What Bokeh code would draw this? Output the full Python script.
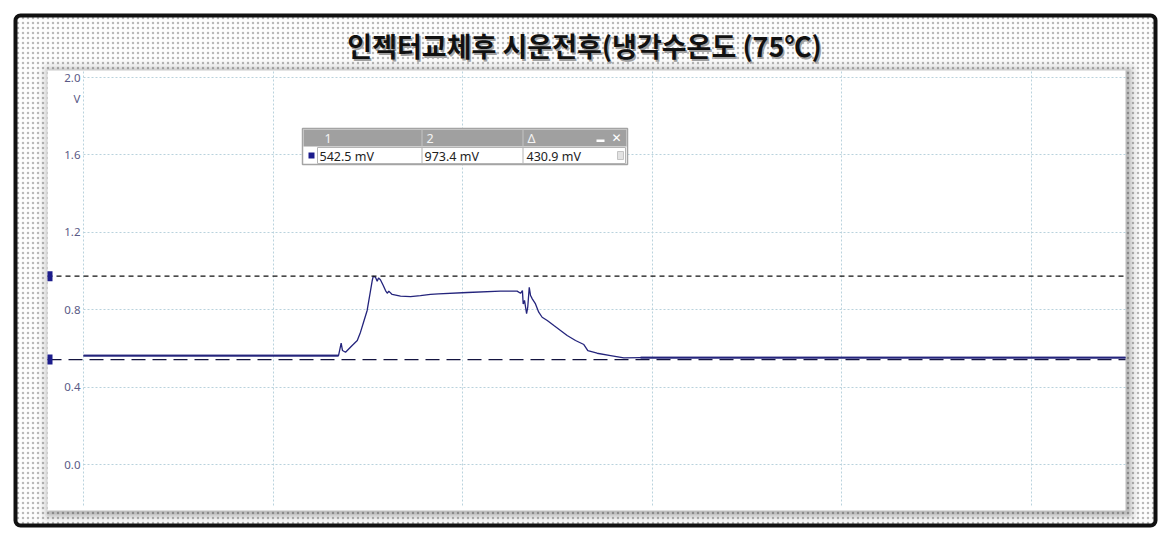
from bokeh.plotting import figure
from bokeh.models import BoxAnnotation, Label, Arrow, Range1d, FixedTicker, PrintfTickFormatter
from bokeh.embed import file_html
from bokeh.resources import INLINE

# ---------------- data ----------------
title_text = "인젝터교체후 시운전후(냉각수온도 (75℃)"
y_unit = "V"
y_ticks = [0.0, 0.4, 0.8, 1.2, 1.6, 2.0]
x_ticks = [0, 1, 2, 3, 4, 5]            # time divisions (no labels shown)

time_div = [0.000, 1.345, 1.359, 1.366, 1.382, 1.417, 1.444, 1.461, 1.477, 1.496,
            1.508, 1.523, 1.528, 1.540, 1.549, 1.556, 1.566, 1.581, 1.593, 1.602,
            1.610, 1.628, 1.672, 1.725, 1.777, 1.830, 1.872, 2.025, 2.199, 2.287,
            2.305, 2.315, 2.319, 2.326, 2.337, 2.343, 2.351, 2.358, 2.367, 2.384,
            2.401, 2.419, 2.446, 2.481, 2.516, 2.551, 2.595, 2.639, 2.660, 2.709,
            2.780, 2.850, 2.938, 5.496]
volts = [0.563, 0.563, 0.627, 0.589, 0.580, 0.615, 0.641, 0.684, 0.735, 0.796,
         0.865, 0.951, 0.972, 0.968, 0.947, 0.964, 0.955, 0.925, 0.899, 0.885,
         0.896, 0.879, 0.870, 0.868, 0.873, 0.879, 0.882, 0.889, 0.896, 0.896,
         0.885, 0.899, 0.830, 0.848, 0.779, 0.813, 0.916, 0.873, 0.856, 0.830,
         0.787, 0.761, 0.744, 0.718, 0.693, 0.667, 0.641, 0.620, 0.589, 0.575,
         0.563, 0.551, 0.552, 0.552]

# noisy baseline envelope (idle regions)
noise_left_t = [0.000, 1.345]
noise_left_lo = [0.557, 0.557]
noise_left_hi = [0.569, 0.569]
noise_right_t = [2.938, 5.496]
noise_right_lo = [0.547, 0.547]
noise_right_hi = [0.558, 0.558]

cursor_names = ["1", "2", "\u0394"]
cursor_mv = [542.5, 973.4, 430.9]

# ---------------- layout ----------------
W, H = 1170, 541
PX_X, PX_Y = 189.6, 193.5          # pixels per division / per volt
OX, OY = 83, 464                   # page position of (0 div, 0 V)
X0, X1 = -OX / PX_X, (W - OX) / PX_X
Y0, Y1 = -(H - OY) / PX_Y, OY / PX_Y
PL, PT, PR, PB = 47, 70, 1125, 510  # white chart panel
XR = (PR - OX) / PX_X               # right edge of plotting area (div)

p = figure(width=W, height=H, output_backend="svg", toolbar_location=None,
           x_range=Range1d(X0, X1), y_range=Range1d(Y0, Y1),
           min_border=0, min_border_left=0, min_border_right=0,
           min_border_top=0, min_border_bottom=0)
p.outline_line_color = None
p.border_fill_color = "white"
p.background_fill_color = "white"
p.title.visible = False

p.xaxis.visible = False
p.xaxis.ticker = FixedTicker(ticks=x_ticks)
p.xgrid.ticker = FixedTicker(ticks=x_ticks)
p.yaxis.ticker = FixedTicker(ticks=y_ticks)
p.yaxis.formatter = PrintfTickFormatter(format="%.1f")
p.yaxis.fixed_location = 0
p.yaxis.axis_line_color = None
p.yaxis.major_tick_line_color = None
p.yaxis.minor_tick_line_color = None
p.yaxis.major_tick_out = 0
p.yaxis.major_tick_in = 0
p.yaxis.major_label_standoff = 3
p.yaxis.major_label_text_font = "Noto Sans"
p.yaxis.major_label_text_font_size = "11.5px"
p.yaxis.major_label_text_color = "#5a5a86"
for g in (p.xgrid, p.ygrid):
    g.grid_line_color = "#b9d2dd"
    g.grid_line_dash = "2 2"
    g.grid_line_width = 1
p.xgrid.cross_bounds = (-(505 - OY) / PX_Y, (OY - PT) / PX_Y)
p.ygrid.cross_bounds = (0, XR)


def sy(y):
    return H - y


def box(x0, y0, x1, y1, level="image", **kw):
    opts = dict(fill_alpha=1.0, line_color=None, line_alpha=1.0)
    opts.update(kw)
    b = BoxAnnotation(left=x0, right=x1, top=sy(y0), bottom=sy(y1),
                      left_units="screen", right_units="screen",
                      top_units="screen", bottom_units="screen", level=level, **opts)
    p.add_layout(b)
    return b


def label(x, y, text, level="annotation", **kw):
    opts = dict(text_font="Noto Sans", text_font_size="12.5px", text_color="#222222",
                text_baseline="middle", text_align="left")
    opts.update(kw)
    lb = Label(x=x, y=sy(y), x_units="screen", y_units="screen", text=text,
               level=level, **opts)
    p.add_layout(lb)
    return lb


# outer dotted card with black border
box(15, 15, 1155, 525, fill_color="#fdfdfd", hatch_pattern="dot", hatch_color="#8a8a8a",
    hatch_scale=5, hatch_weight=0.6, hatch_alpha=0.6, line_color="#111111", line_width=4,
    border_radius=5)
# soft panel shadow
for d, a in [(11, 0.025), (8, 0.035), (5, 0.05), (3, 0.07), (1, 0.09)]:
    box(PL - d + 2, PT - d + 1, PR + d + 3, PB + d + 3, fill_color="#000000", fill_alpha=a,
        border_radius=d)
# white chart panel
box(PL, PT, PR, PB, fill_color="white")

# title (with light shadow)
label(585.5, 46.5, title_text, text_font="Noto Sans CJK KR", text_font_style="bold",
      text_font_size="27px", text_color="#a0a0a0", text_align="center")
label(584, 45, title_text, text_font="Noto Sans CJK KR", text_font_style="bold",
      text_font_size="27px", text_color="#111111", text_align="center")

# unit under top tick
p.add_layout(Label(x=80, y=y_ticks[-1] - 21 / PX_Y, x_units="screen", y_units="data",
                   text=y_unit, text_font="Noto Sans", text_font_size="11.5px",
                   text_color="#5a5a86", text_align="right", text_baseline="middle"))

# trace
trace_color = "#24247c"
p.varea(x=noise_left_t, y1=noise_left_lo, y2=noise_left_hi, color=trace_color, alpha=0.85)
p.varea(x=noise_right_t, y1=noise_right_lo, y2=noise_right_hi, color=trace_color, alpha=0.85)
p.line(time_div, volts, line_color=trace_color, line_width=1.3)

# cursors
c1, c2 = cursor_mv[0] / 1000.0, cursor_mv[1] / 1000.0
x_left = (PL - OX) / PX_X
p.add_layout(Arrow(end=None, x_start=x_left, y_start=c2, x_end=XR, y_end=c2,
                   line_color="#111111", line_width=1.2, line_dash="5 4", level="overlay"))
p.add_layout(Arrow(end=None, x_start=x_left, y_start=c1, x_end=XR, y_end=c1,
                   line_color="#141440", line_width=1.2, line_dash="14 7", level="glyph"))
for c in (c1, c2):
    p.add_layout(BoxAnnotation(left=PL, right=PL + 5, left_units="screen",
                               right_units="screen", top=c + 5 / PX_Y, bottom=c - 5 / PX_Y,
                               fill_color="#1c1c8c", fill_alpha=1, line_color=None,
                               level="overlay"))

# cursor readout box
box(302, 128, 627, 164, level="overlay", fill_color="white", line_color="#a4a4a4", line_width=1.5)
box(303, 129, 626, 146, level="overlay", fill_color="#a0a0a0")
box(421, 129, 422, 146, level="overlay", fill_color="#c4c4c4")
box(522, 129, 523, 146, level="overlay", fill_color="#c4c4c4")
box(317, 147, 625, 163, level="overlay", fill_color="white", line_color="#b4b4b4", line_width=1)
box(421, 147, 422, 163, level="overlay", fill_color="#b4b4b4")
box(522, 147, 523, 163, level="overlay", fill_color="#b4b4b4")
box(308, 152, 314, 158, level="overlay", fill_color="#1c1c8c")
head_x = [324, 426, 527]
val_x = [319, 424, 526]
for hx, vx, name, mv in zip(head_x, val_x, cursor_names, cursor_mv):
    label(hx, 138, name, level="overlay", text_color="#f4f4f4")
    label(vx, 155.5, f"{mv:.1f} mV", level="overlay")
box(596, 139, 604, 141.5, level="overlay", fill_color="white")
label(611, 137.5, "\u2715", level="overlay", text_color="white", text_font_style="bold",
      text_font="DejaVu Sans", text_font_size="12px")
box(617, 151, 623, 159, level="overlay", fill_color="#e2e2e2", line_color="#c4c4c4", line_width=1)

open("out.html", "w").write(file_html(p, INLINE))
